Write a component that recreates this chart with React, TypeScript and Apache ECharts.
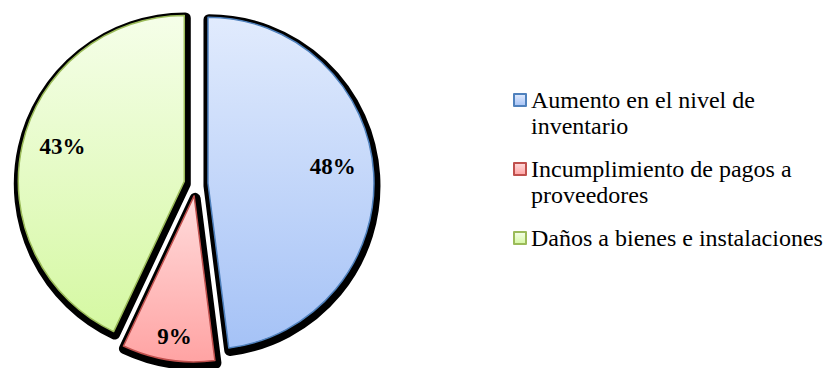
import React, { useEffect, useRef } from 'react';
import * as echarts from 'echarts';

const categories = [
  'Aumento en el nivel de inventario',
  'Incumplimiento de pagos a proveedores',
  'Daños a bienes e instalaciones',
];
const values = [48, 9, 43];
const legendLines = [
  ['Aumento en el nivel de', 'inventario'],
  ['Incumplimiento de pagos a', 'proveedores'],
  ['Daños a bienes e instalaciones', ' '],
];
const topColors = ['#e1ebfd', '#ffdcdc', '#f5fee9'];
const bottomColors = ['#a5c2f6', '#ffa3a3', '#d5f8a2'];
const borderColors = ['#4f81bd', '#c0504d', '#9bbb59'];
// horizontal nudge padding [top, right, bottom, left] and vertical spacer height per label
const labelPadding = [
  [0, 8, 0, 0],
  [0, 0, 0, 6],
  [0, 0, 0, 8],
];
const labelLift = [18, 4, 14];

const FONT = 'Liberation Serif';

export default function App() {
  const ref = useRef<HTMLDivElement>(null);
  useEffect(() => {
    document.body.style.margin = '0';
    if (!ref.current) return;
    const chart = echarts.init(ref.current, undefined, { renderer: 'svg' });
    const center = [196, 184];
    const grad = (i: number) =>
      new echarts.graphic.LinearGradient(0, 0, 0, 1, [
        { offset: 0, color: topColors[i] },
        { offset: 1, color: bottomColors[i] },
      ]);
    const mainStyle = (i: number) => ({
      color: grad(i),
      borderColor: borderColors[i],
      borderWidth: 1.5,
    });
    const wrapped: Record<string, string> = {};
    categories.forEach((c, i) => {
      wrapped[c] = ' \n' + legendLines[i].join('\n');
    });
    const common = {
      type: 'pie',
      startAngle: 90,
      clockwise: true,
      selectedMode: 'multiple',
      selectedOffset: 12,
      labelLine: { show: false },
      emphasis: { disabled: true },
    };
    chart.setOption({
      animation: false,
      legend: {
        orient: 'vertical',
        left: 513,
        top: 61,
        padding: 0,
        itemWidth: 12,
        itemHeight: 12,
        itemGap: -9,
        icon: 'rect',
        selectedMode: false,
        data: categories,
        formatter: (name: string) => wrapped[name],
        textStyle: { fontFamily: FONT, fontSize: 24, lineHeight: 26, color: '#000' },
      },
      series: [
        {
          ...common,
          name: 'main',
          z: 3,
          center,
          radius: 166,
          label: { show: false },
          data: categories.map((c, i) => ({
            name: c,
            value: values[i],
            selected: true,
            itemStyle: mainStyle(i),
            select: { itemStyle: mainStyle(i) },
          })),
        },
        {
          ...common,
          name: 'shadow',
          z: 1,
          silent: true,
          center: [center[0] + 1, center[1] + 2.5],
          radius: 166,
          label: { show: false },
          data: values.map((v, i) => {
            const st = {
              color: '#000',
              borderColor: '#000',
              borderWidth: 11,
              borderMiterLimit: 2,
            };
            return { name: 'k' + i, value: v, selected: true, itemStyle: st, select: { itemStyle: st } };
          }),
        },
        ...[
          { radius: [96, 156], show: [true, false, true] },
          { radius: [116, 166], show: [false, true, false] },
        ].map((cfg, si) => ({
          ...common,
          name: 'labels' + si,
          z: 4,
          silent: true,
          center,
          radius: cfg.radius,
          label: {
            position: 'inside',
            formatter: '{a|{c}%}\n{s| }',
            color: '#000',
          },
          data: values.map((v, i) => {
            const st = { color: 'rgba(0,0,0,0)', borderWidth: 0 };
            return {
              name: 'l' + si + i,
              value: v,
              selected: true,
              itemStyle: st,
              select: { itemStyle: st },
              label: {
                show: cfg.show[i],
                padding: labelPadding[i],
                rich: {
                  a: {
                    fontFamily: FONT,
                    fontWeight: 'bold',
                    fontSize: 23,
                    lineHeight: 26,
                    color: '#000',
                  },
                  s: { fontSize: 1, lineHeight: labelLift[i], height: labelLift[i] },
                },
              },
            };
          }),
        })),
      ],
    });
    return () => chart.dispose();
  }, []);
  return <div ref={ref} style={{ width: 825, height: 368 }} />;
}
